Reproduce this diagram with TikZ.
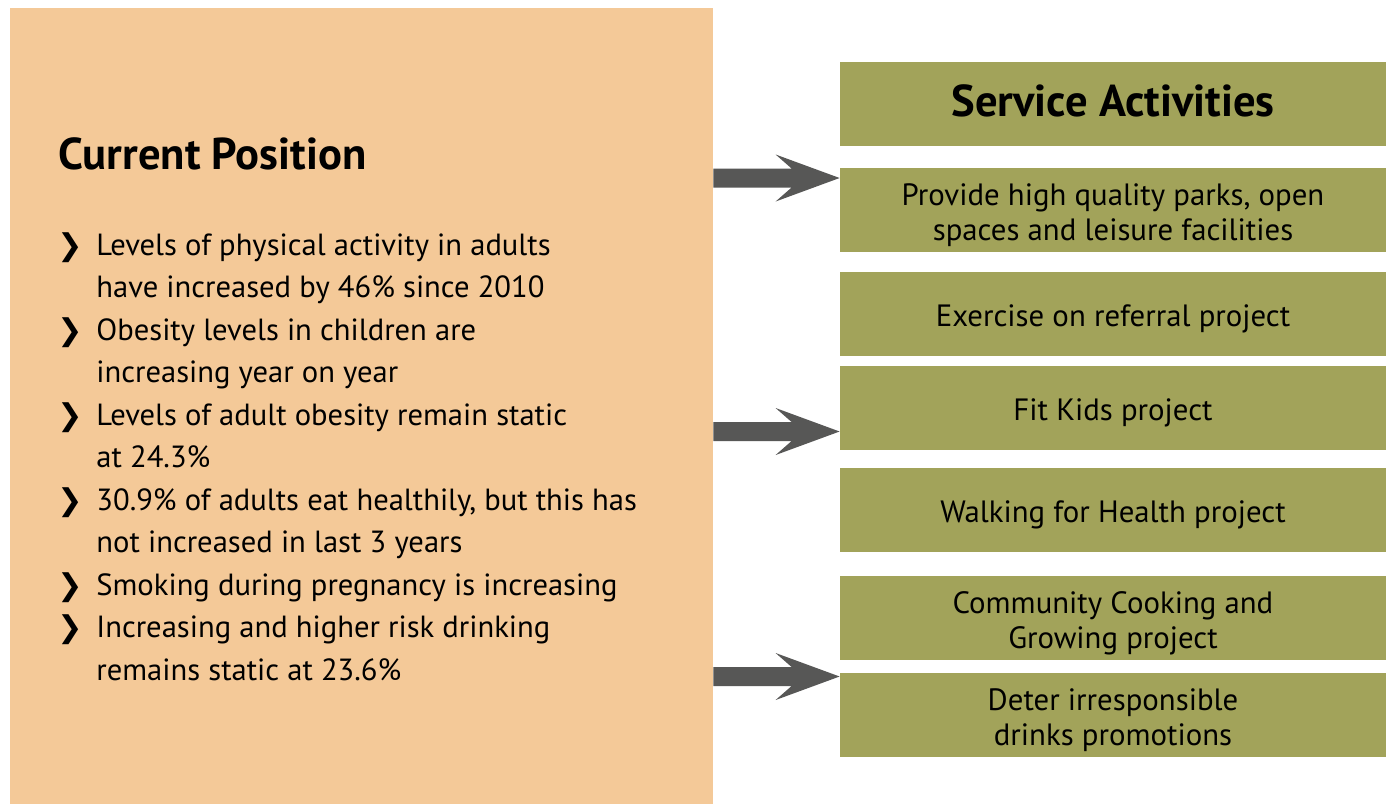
\documentclass[tikz,border=0pt]{standalone}
\usepackage{fontspec}
\setmainfont{PT Sans}
\newfontfamily\chevfont{DejaVu Sans}
\usetikzlibrary{calc}
\definecolor{orangebg}{HTML}{F4C998}
\definecolor{greenbg}{HTML}{A2A35A}
\definecolor{arrowgrey}{HTML}{575756}
\tikzset{
  greenbox/.style={fill=greenbg, draw=none, minimum width=273pt, minimum height=42pt, inner sep=0pt},
  greentext/.style={inner sep=0pt, align=center, font=\fontsize{15.4}{17.5}\selectfont},
  bodyline/.style={anchor=base west, inner sep=0pt, font=\fontsize{15.3}{21.25}\selectfont},
  chev/.style={anchor=base west, inner sep=0pt, font=\chevfont\bfseries\fontsize{15}{17}\selectfont},
  heading/.style={inner sep=0pt, font=\bfseries\fontsize{22.3}{26}\selectfont},
  arrowfill/.style={fill=arrowgrey}
}
\newcommand{\fatarrow}[2]{%
  \fill[arrowfill] ($(#1)+(0,9.5)$) -- ($(#2)+(-48,9.5)$) -- ($(#2)+(-64,23.5)$) -- (#2)
    -- ($(#2)+(-64,-23.5)$) -- ($(#2)+(-48,-9.5)$) -- ($(#1)+(0,-9.5)$) -- cycle;}
\begin{document}
\begin{tikzpicture}[x=0.5pt,y=-0.5pt]
\useasboundingbox[fill=white] (0,0) rectangle (1386,804);
% left panel
\node[fill=orangebg, draw=none, minimum width=351.5pt, minimum height=398pt, inner sep=0pt] (cp) at (361.5,406) {};
\node[heading, anchor=base west] (cptitle) at (58,169) {Current Position};
% bullets
\node[chev] (c1) at (57,255) {❯};
\node[chev] (c2) at (57,340) {❯};
\node[chev] (c3) at (57,425) {❯};
\node[chev] (c4) at (57,510) {❯};
\node[chev] (c5) at (57,595) {❯};
\node[chev] (c6) at (57,637.5) {❯};
\node[bodyline] (l1) at (96,255) {Levels of physical activity in adults};
\node[bodyline] (l2) at (96,297.5) {have increased by 46\% since 2010};
\node[bodyline] (l3) at (96,340) {Obesity levels in children are};
\node[bodyline] (l4) at (96,382.5) {increasing year on year};
\node[bodyline] (l5) at (96,425) {Levels of adult obesity remain static};
\node[bodyline] (l6) at (96,467.5) {at 24.3\%};
\node[bodyline] (l7) at (96,510) {30.9\% of adults eat healthily, but this has};
\node[bodyline] (l8) at (96,552.5) {not increased in last 3 years};
\node[bodyline] (l9) at (96,595) {Smoking during pregnancy is increasing};
\node[bodyline] (l10) at (96,637.5) {Increasing and higher risk drinking};
\node[bodyline] (l11) at (96,680) {remains static at 23.6\%};
% right boxes
\node[greenbox] (sa) at (1113,104) {};
\node[greenbox] (act1) at (1113,210) {};
\node[greenbox] (act2) at (1113,314) {};
\node[greenbox] (act3) at (1113,408) {};
\node[greenbox] (act4) at (1113,510) {};
\node[greenbox] (act5) at (1113,618) {};
\node[greenbox] (act6) at (1113,715) {};
\node[heading] (sat) at ($(sa.center)+(0,-3)$) {Service Activities};
\node[greentext] (act1t) at ($(act1.center)+(0,5)$) {Provide high quality parks, open\\spaces and leisure facilities};
\node[greentext] (act2t) at ($(act2.center)+(0,5)$) {Exercise on referral project};
\node[greentext] (act3t) at ($(act3.center)+(0,5)$) {Fit Kids project};
\node[greentext] (act4t) at ($(act4.center)+(0,5)$) {Walking for Health project};
\node[greentext] (act5t) at ($(act5.center)+(0,5)$) {Community Cooking and\\Growing project};
\node[greentext] (act6t) at ($(act6.center)+(0,5)$) {Deter irresponsible\\drinks promotions};
% arrows
\coordinate (a1s) at (cp.east |- 0,178);
\coordinate (a1e) at (act1.west |- 0,178);
\coordinate (a2s) at (cp.east |- 0,431.5);
\coordinate (a2e) at (act3.west |- 0,431.5);
\coordinate (a3s) at (cp.east |- 0,676.5);
\coordinate (a3e) at (act6.west |- 0,676.5);
\fatarrow{a1s}{a1e}
\fatarrow{a2s}{a2e}
\fatarrow{a3s}{a3e}
\end{tikzpicture}
\end{document}
